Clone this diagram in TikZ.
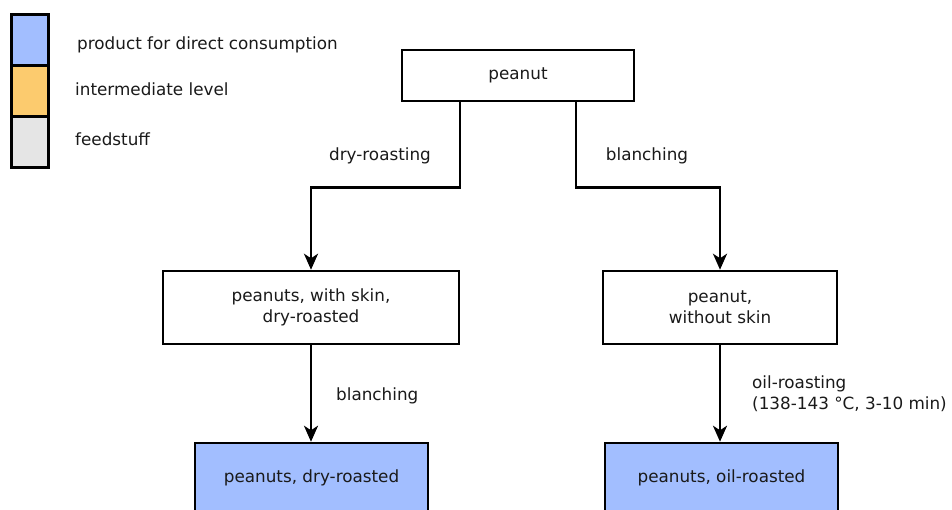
\documentclass[tikz,border=0pt]{standalone}
\usepackage{fontspec}
\setmainfont{DejaVu Sans}
\usetikzlibrary{arrows.meta}
\definecolor{consume}{HTML}{A2BEFF}
\definecolor{interm}{HTML}{FCCB6E}
\definecolor{feed}{HTML}{E5E5E5}
\definecolor{ink}{HTML}{1A1A1A}
\begin{document}
\begin{tikzpicture}[x=1pt,y=-1pt,
  every node/.style={font=\fontsize{16.8}{21}\selectfont, text=ink},
  procbox/.style={draw=black, line width=2.5pt, fill=white, align=center,
    inner sep=0pt, minimum height=73pt},
  prodbox/.style={procbox, fill=consume, minimum height=70pt},
  legbox/.style={draw=black, line width=3pt, minimum width=37pt,
    minimum height=51pt, inner sep=0pt},
  legtext/.style={anchor=base west, inner sep=0pt},
  steplabel/.style={inner sep=0pt},
  flow/.style={draw=black, line width=2.6pt,
    -{Stealth[length=16pt,width=14pt,inset=4.5pt]}}]
  % page area
  \fill[white] (0,0) rectangle (952,510);
  \clip (0,0) rectangle (952,510);

  % legend
  \node[legbox, fill=consume] (legc) at (29.5,40.5) {};
  \node[legbox, fill=interm]  (legi) at (29.5,91.5) {};
  \node[legbox, fill=feed]    (legf) at (29.5,142) {};
  \node[legtext] (legct) at (77,49.5) {product for direct consumption};
  \node[legtext] (legit) at (75,95.5) {intermediate level};
  \node[legtext] (legft) at (75,145.5) {feedstuff};

  % process boxes
  \node[procbox, minimum width=232pt, minimum height=51pt] (peanut) at (518,75.5) {peanut\vphantom{y}};
  \node[procbox, minimum width=296pt] (lmid) at (311,307.5) {peanuts, with skin,\\dry-roasted};
  \node[procbox, minimum width=234pt] (rmid) at (720,307.5) {peanut,\\without skin};
  \node[prodbox, minimum width=233pt] (lbot) at (311.5,478) {peanuts, dry-roasted};
  \node[prodbox, minimum width=233pt] (rbot) at (721.5,478) {peanuts, oil-roasted};

  % connectors
  \draw[flow] ([xshift=-58pt]peanut.south) -- ++(0,85) -| (lmid.north);
  \draw[flow] ([xshift=58pt]peanut.south) -- ++(0,85) -| (rmid.north);
  \draw[flow] (lmid.south) -- (lmid.south |- lbot.north);
  \draw[flow] (rmid.south) -- (rmid.south |- rbot.north);

  % step labels
  \node[steplabel] (ldry) at (380,156) {dry-roasting};
  \node[steplabel] (rbla) at (647,156) {blanching};
  \node[steplabel, anchor=west] (lbla) at (336,396) {blanching};
  \node[steplabel, anchor=west, align=left] (roil) at (752,393.5)
    {oil-roasting\\(138-143 °C, 3-10 min)};
\end{tikzpicture}
\end{document}
